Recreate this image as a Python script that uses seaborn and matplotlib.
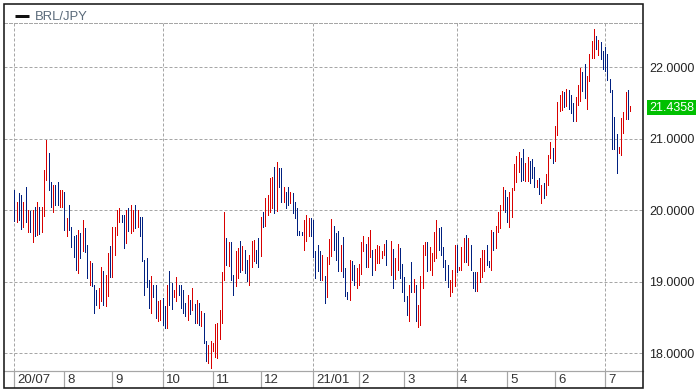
import matplotlib
matplotlib.use("Agg")
import matplotlib.pyplot as plt
import matplotlib.transforms as mtransforms
from matplotlib.patches import Rectangle
from matplotlib.lines import Line2D
import numpy as np
import pandas as pd
import seaborn as sns

# ---------------- data ----------------
series_name = "BRL/JPY"
last_price = 21.4358
y_ticks = [18, 19, 20, 21, 22]
month_labels = ["20/07", "8", "9", "10", "11", "12", "21/01", "2", "3", "4", "5", "6", "7"]
bars_per_month = [22, 21, 22, 22, 21, 23, 20, 20, 23, 22, 21, 22, 12]

# daily high / low, None = no bar drawn in that session
bar_high = [
    20.29, 20.12, 20.24, 20.22, 20.11, 20.32, 20.01, 19.99, 20.00, 20.05,
    20.12, 20.04, 20.04, 20.56, 20.98, 20.80, 20.40, 20.35, 20.35, 20.40,
    20.28, 20.29, 20.25, 19.89, 20.07, 19.76, 19.64, 19.66, 19.73, 19.68,
    19.86, 19.75, 19.51, 19.29, 19.26, 18.96, 18.89, 18.91, 19.20, 19.15,
    19.10, 19.40, 19.50, 19.76, 19.76, 20.01, 20.03, 19.94, 19.94, 20.01,
    20.03, 20.08, 20.00, 20.08, 20.01, 19.90, 19.90, 19.31, 19.33, 19.03,
    19.08, 18.95, 18.95, 18.73, 18.74, 18.77, 18.66, 18.95, 19.15, 18.98,
    18.89, 19.06, 18.96, 18.96, 18.88, 18.70, 18.82, 18.74, 18.91, 18.69,
    18.74, 18.70, 18.59, 18.56, 18.17, 18.11, 18.17, 18.15, 18.41, 18.42,
    18.60, 19.13, 19.97, 19.61, 19.55, 19.55, 19.09, 19.43, 19.47, 19.57,
    19.50, 19.45, 19.30, 19.37, 19.57, 19.58, 19.44, 19.61, 19.90, 19.97,
    20.17, 20.21, 20.45, 20.46, 20.60, 20.67, 20.59, 20.59, 20.32, 20.26,
    20.32, 20.26, 20.24, 20.12, 20.03, 19.71, 19.69, 19.86, 19.94, 19.89,
    19.89, 19.87, 19.43, 19.52, 19.43, 19.38, 19.08, 19.35, 19.60, 19.88,
    19.78, 19.68, 19.71, 19.52, 19.63, 19.19, 18.86, 19.31, 19.29, 19.24,
    19.19, 19.25, 19.56, 19.64, 19.53, 19.63, 19.73, 19.45, 19.46, 19.52,
    19.50, 19.43, 19.53, 19.59, None, 19.57, 19.46, 19.33, 19.53, 19.47,
    19.25, 19.07, 18.80, 18.96, 19.28, 19.04, 18.96, 18.67, 19.08, 19.51,
    19.55, 19.55, 19.48, 19.40, 19.69, 19.86, 19.75, 19.76, 19.48, 19.30,
    19.23, 19.02, 19.17, 19.52, 19.52, 19.21, 19.48, 19.61, 19.65, 19.61,
    19.51, 19.13, 19.13, 19.13, 19.33, 19.44, 19.45, 19.51, 19.29, 19.73,
    19.69, 19.78, 19.97, 20.08, 20.32, 20.29, 20.18, 20.26, 20.31, 20.65,
    20.76, 20.81, 20.73, 20.86, 20.66, 20.75, 20.69, 20.72, 20.61, 20.42,
    20.45, 20.35, 20.38, 20.51, 20.77, 20.96, 20.87, 21.18, 21.52, 21.61,
    21.67, 21.66, 21.70, 21.68, 21.61, 21.50, 21.58, 21.75, 21.99, 21.93,
    22.05, 21.88, 22.19, 22.37, 22.54, 22.44, 22.38, 22.35, 22.23, 22.28,
    22.19, 21.84, 21.68, 21.31, 21.07, 20.89, 21.29, 21.38, 21.66, 21.68,
    21.46,
]
bar_low = [
    19.85, 19.84, 19.87, 19.74, 19.77, 19.84, 19.69, 19.69, 19.56, 19.64,
    19.65, 19.67, 19.70, 19.92, 20.42, 20.28, 20.04, 19.97, 20.08, 20.07,
    20.04, 20.04, 19.73, 19.64, 19.72, 19.48, 19.34, 19.16, 19.12, 19.33,
    19.43, 19.41, 19.05, 18.95, 18.94, 18.56, 18.67, 18.63, 18.73, 18.67,
    18.66, 18.80, 19.06, 19.06, 19.38, 19.65, 19.83, 19.83, 19.47, 19.54,
    19.71, 19.68, 19.71, 19.75, 19.76, 19.64, 19.29, 18.81, 18.92, 18.63,
    18.56, 18.79, 18.49, 18.45, 18.46, 18.39, 18.36, 18.35, 18.67, 18.62,
    18.78, 18.73, 18.82, 18.64, 18.57, 18.52, 18.46, 18.55, 18.60, 18.42,
    18.43, 18.39, 18.38, 18.14, 17.89, 17.87, 17.79, 18.03, 17.95, 17.93,
    18.20, 18.43, 19.02, 19.23, 19.22, 19.02, 18.81, 18.94, 19.05, 19.13,
    19.16, 19.12, 19.01, 18.95, 19.20, 19.29, 19.26, 19.20, 19.36, 19.76,
    19.78, 19.94, 19.98, 20.03, 19.96, 19.99, 20.32, 20.11, 20.12, 20.03,
    20.07, 20.10, 19.96, 19.89, 19.65, 19.66, 19.65, 19.45, 19.57, 19.64,
    19.64, 19.34, 19.05, 19.15, 19.02, 19.02, 18.71, 18.78, 19.25, 19.36,
    19.45, 19.31, 19.15, 19.15, 19.07, 18.80, 18.76, 18.75, 19.03, 18.96,
    18.91, 18.96, 19.11, 19.43, 19.21, 19.21, 19.35, 19.10, 19.17, 19.26,
    19.26, 19.33, 19.38, 19.24, None, 19.10, 18.91, 19.04, 19.17, 19.05,
    18.86, 18.73, 18.54, 18.45, 18.85, 18.85, 18.45, 18.37, 18.40, 18.91,
    19.37, 19.15, 19.16, 19.09, 19.29, 19.33, 19.44, 19.37, 19.20, 19.03,
    18.92, 18.80, 18.85, 18.94, 19.13, 19.16, 19.16, 19.27, 19.27, 19.24,
    19.16, 18.91, 18.87, 18.87, 18.99, 19.06, 19.15, 19.23, 19.20, 19.17,
    19.44, 19.47, 19.69, 19.75, 20.01, 19.97, 19.83, 19.76, 19.90, 20.29,
    20.40, 20.53, 20.41, 20.42, 20.41, 20.41, 20.38, 20.45, 20.33, 20.33,
    20.23, 20.10, 20.17, 20.21, 20.35, 20.73, 20.66, 20.69, 21.05, 21.39,
    21.40, 21.45, 21.46, 21.42, 21.36, 21.25, 21.25, 21.47, 21.53, 21.67,
    21.57, 21.42, 21.81, 22.13, 22.13, 22.26, 22.17, 22.12, 21.98, 21.95,
    21.82, 21.66, 20.86, 20.86, 20.52, 20.80, 20.77, 21.08, 21.28, 21.28,
    21.39,
]
# u = rising session (red), d = falling session (blue), - = none
bar_dir = list(
    "duddududud" "uduuuddudd" "uududdddud" "udduddduud" "uuduuuuddu"
    "duududdddd" "udduuddudd" "uuddddudud" "ududduuuuu" "uuududduud"
    "udduuuddud" "uuuududdud" "duddddduuu" "ddddduduuu" "dddudddudd"
    "uuuuduuduu" "uuud" "-" "uduudd" "ddududuuuu" "duuuuddddd"
    "uuuduuudud" "dduuuuddud" "uuuudduuuu" "udduudddud" "uduuuduuuu"
    "duddduuudd" "uuuududddd" "dddduuuudu"
)
assert len(bar_dir) == len(bar_high) == len(bar_low) == sum(bars_per_month)

# ---------------- table for seaborn ----------------
rows = []
for i, (h, l, d) in enumerate(zip(bar_high, bar_low, bar_dir)):
    if h is None:
        continue
    kind = "up" if d == "u" else "down"
    rows.append({"session": i, "price": h, "bar": i, "dir": kind})
    rows.append({"session": i, "price": l, "bar": i, "dir": kind})
df = pd.DataFrame(rows)
month_start = np.concatenate([[0], np.cumsum(bars_per_month)[:-1]])

# ---------------- styling ----------------
sns.set_theme(style="white")
plt.rcParams["font.family"] = ["Liberation Sans", "DejaVu Sans"]

W, H = 700, 392
DPI = 100
fig = plt.figure(figsize=(W / DPI, H / DPI), dpi=DPI, facecolor="white")


def rect(x0, y0, x1, y1):
    return [x0 / W, 1 - y1 / H, (x1 - x0) / W, (y1 - y0) / H]


ax = fig.add_axes(rect(4, 23.3, 643, 371))
axd = fig.add_axes(rect(4, 371, 643, 388))

RED = "#d80000"
BLUE = "#002080"
GRID = "#a6a6a6"
PX = 72 / DPI  # one pixel in points

sns.lineplot(
    data=df, x="session", y="price", units="bar", estimator=None, sort=False,
    hue="dir", palette={"up": RED, "down": BLUE}, legend=False,
    linewidth=1.0 * PX, antialiased=False, ax=ax,
)

n = len(bar_high)
spacing = 616.0 / (n - 1)
x_left = -(14.3 - 4) / spacing
x_right = (643 - 14.3) / spacing
ax.set_xlim(x_left, x_right)
ax.set_ylim(17.752, 22.615)
axd.set_xlim(x_left, x_right)
axd.set_ylim(0, 1)

ax.set_xlabel("")
ax.set_ylabel("")
ax.set_xticks([])
ax.yaxis.tick_right()
ax.set_yticks(y_ticks)
ax.set_yticklabels([f"{v:.4f}" for v in y_ticks])
ax.tick_params(axis="y", length=0, pad=4.3, labelsize=9, labelcolor="#222222")

for yv in y_ticks:
    ax.axhline(yv, color=GRID, lw=PX, dashes=(3, 2), zorder=0)
for k, xs in enumerate(month_start):
    if k % 3 == 0:
        ax.axvline(xs, color=GRID, lw=PX, dashes=(3, 2), zorder=0)

for side in ["left", "right"]:
    ax.spines[side].set_visible(False)
ax.spines["top"].set_color(GRID)
ax.spines["top"].set_linewidth(PX)
ax.spines["top"].set_linestyle((0, (3, 2)))
ax.spines["bottom"].set_color(GRID)
ax.spines["bottom"].set_linewidth(1.2 * PX)

# date band
axd.axis("off")
for xs, lab in zip(month_start, month_labels):
    axd.axvline(xs, color=GRID, lw=1.2 * PX)
    tr = mtransforms.offset_copy(axd.transData, fig=fig, x=3, y=0, units="dots")
    axd.text(xs, 0.47, lab, transform=tr, ha="left", va="center",
             fontsize=9.5, color="#333333")

# last price tag
tr_last = mtransforms.offset_copy(
    mtransforms.blended_transform_factory(ax.transAxes, ax.transData),
    fig=fig, x=6, y=0, units="dots")
ax.text(1, last_price, f"{last_price:.4f}", transform=tr_last, ha="left",
        va="center", fontsize=9, color="white", clip_on=False,
        bbox=dict(boxstyle="square,pad=0.15", fc="#00c000", ec="none"))

# legend
fig.add_artist(Line2D([15 / W, 29 / W], [1 - 16 / H, 1 - 16 / H],
                      transform=fig.transFigure, color="#111111", lw=3 * PX,
                      solid_capstyle="butt"))
fig.text(35 / W, 1 - 16.5 / H, series_name, ha="left", va="center",
         fontsize=9.4, color="#5a6a7a")

# outer frame
fig.add_artist(Rectangle((4 / W, 1 - 388 / H), 639 / W, 384 / H,
                         transform=fig.transFigure, fill=False,
                         ec="#1a1a1a", lw=1.6 * PX))

fig.savefig("out.png", dpi=DPI, facecolor="white")
